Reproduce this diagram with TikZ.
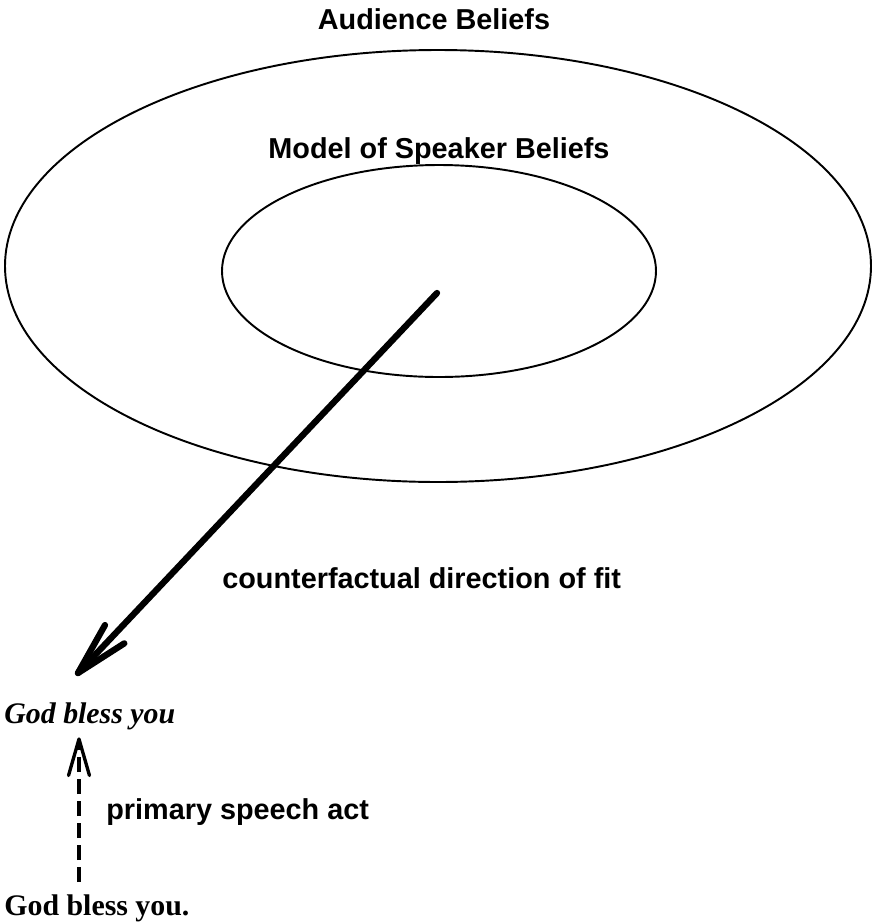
\documentclass[tikz,border=0pt]{standalone}
\usepackage{fontspec}
\setmainfont{Liberation Serif}
\newfontfamily\labelfont{Liberation Sans}
\usetikzlibrary{calc}
\tikzset{
    lbl/.style={font=\labelfont\bfseries\fontsize{16.4}{19}\selectfont, inner sep=0pt},
    utter/.style={font=\bfseries\fontsize{17}{20}\selectfont, inner sep=0pt, anchor=west},
    barb/.style={line width=#1, line cap=round, line join=round},
}
\begin{document}
\begin{tikzpicture}[x=0.02cm, y=-0.02cm]
        \useasboundingbox (0,0) rectangle (876,924);
        % belief spaces
        \draw[line width=1.1pt] (438,266) ellipse [x radius=433, y radius=216];
        \draw[line width=1.1pt] (439,271) ellipse [x radius=217, y radius=106];
        \node[lbl] (aud) at (434,19) {Audience Beliefs};
        \node[lbl] (spk) at (439,151) {Model of Speaker Beliefs};
        % direction of fit
        \coordinate (src) at (437,293);
        \coordinate (tgt) at (78,673);
        \draw[barb=3.6pt] (src) -- (tgt);
        \draw[barb=3.6pt] ($(tgt)!1.1cm!-14:(src)$) -- (tgt) -- ($(tgt)!1.1cm!14:(src)$);
        \node[lbl, anchor=west] (fit) at (222,578) {counterfactual direction of fit};
        % utterance
        \node[utter] (said) at (4,908) {God bless you.};
        \node[utter] (meant) at (4,716) {\itshape God bless you};
        \coordinate (low) at (79,882);
        \coordinate (high) at (79,739);
        \draw[line width=1.9pt, dash pattern=on 8.5pt off 4pt] (low) -- ($(high)!3pt!(low)$);
        \draw[barb=1.9pt] ($(high)!0.76cm!-16:(low)$) -- (high) -- ($(high)!0.76cm!16:(low)$);
        \node[lbl, anchor=west] (act) at (106,812) {primary speech act};
    \end{tikzpicture}
\end{document}
